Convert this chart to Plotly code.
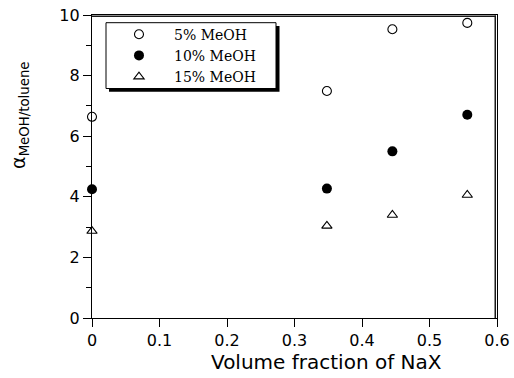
import plotly.graph_objects as go

vol_frac = [0.0, 0.348, 0.445, 0.556]
meoh5 = [6.64, 7.49, 9.53, 9.74]
meoh10 = [4.25, 4.27, 5.5, 6.71]
meoh15 = [2.87, 3.04, 3.40, 4.06]
series_names = ["5% MeOH", "10% MeOH", "15% MeOH"]
x_ticks = [0, 0.1, 0.2, 0.3, 0.4, 0.5, 0.6]
x_tick_labels = ["0", "0.1", "0.2", "0.3", "0.4", "0.5", "0.6"]
y_ticks = [0, 2, 4, 6, 8, 10]
x_title = "Volume fraction of NaX"
y_title = "α<sub>MeOH/toluene</sub>"

fig = go.Figure()
fig.add_trace(go.Scatter(x=vol_frac, y=meoh5, mode="markers", name=series_names[0],
                         marker=dict(symbol="circle-open", size=9, color="black", line=dict(width=1.1)),
                         cliponaxis=False))
fig.add_trace(go.Scatter(x=vol_frac, y=meoh10, mode="markers", name=series_names[1],
                         marker=dict(symbol="circle", size=10, color="black"),
                         cliponaxis=False))
fig.add_trace(go.Scatter(x=vol_frac, y=meoh15, mode="markers", name=series_names[2],
                         marker=dict(symbol="triangle-up-open", size=9, color="black", line=dict(width=1.1)),
                         cliponaxis=False))

# plot frame: top and right borders (pixel-sized, anchored at the plot's top-left corner)
fig.add_shape(type="rect", xref="paper", yref="paper", xsizemode="pixel", ysizemode="pixel",
              xanchor=0, yanchor=1, x0=0, x1=404, y0=-2, y1=-0.5,
              fillcolor="#1a1a1a", line=dict(width=0), layer="above")
fig.add_shape(type="rect", xref="paper", yref="paper", xsizemode="pixel", ysizemode="pixel",
              xanchor=0, yanchor=1, x0=402.5, x1=404, y0=-303, y1=-0.5,
              fillcolor="#1a1a1a", line=dict(width=0), layer="above")
# legend box with drop shadow
fig.add_shape(type="rect", xref="paper", yref="paper", xsizemode="pixel", ysizemode="pixel",
              xanchor=0, yanchor=1, x0=17, x1=187.5, y0=-76.7, y1=-11,
              fillcolor="black", line=dict(width=0), layer="above")
fig.add_shape(type="rect", xref="paper", yref="paper", xsizemode="pixel", ysizemode="pixel",
              xanchor=0, yanchor=1, x0=14, x1=184, y0=-73.5, y1=-7.7,
              fillcolor="white", line=dict(width=1, color="black"), layer="above")

fig.add_annotation(text=y_title, xref="paper", yref="paper", x=0, y=0.667,
                   xanchor="center", yanchor="middle", xshift=-72, textangle=-90,
                   showarrow=False, font=dict(family="DejaVu Sans, sans-serif", size=19, color="black"))
fig.add_annotation(text=x_title, xref="paper", yref="paper", x=0.58, y=0,
                   xanchor="center", yanchor="top", yshift=-30,
                   showarrow=False, font=dict(family="DejaVu Sans, sans-serif", size=20, color="black"))

fig.update_layout(
    width=514, height=378,
    margin=dict(l=92, r=17, t=15, b=60, autoexpand=False),
    plot_bgcolor="white", paper_bgcolor="white",
    font=dict(family="DejaVu Sans, sans-serif", size=16, color="black"),
    showlegend=True,
    legend=dict(x=0.0296, y=0.866, xanchor="left", yanchor="middle",
                bgcolor="rgba(0,0,0,0)", borderwidth=0,
                font=dict(family="DejaVu Serif, serif", size=14, color="black"),
                itemwidth=60, tracegroupgap=0),
    xaxis=dict(range=[0, 0.6], tickvals=x_ticks, ticktext=x_tick_labels,
               ticks="outside", ticklen=8, tickcolor="black",
               showline=True, linecolor="black", linewidth=1.2, mirror=True,
               showgrid=False, zeroline=False, automargin=False),
    yaxis=dict(range=[0, 10], tickvals=y_ticks,
               ticks="outside", ticklen=8, tickcolor="black",
               minor=dict(dtick=1, ticks="outside", ticklen=5, tickcolor="black"),
               showline=True, linecolor="black", linewidth=1.2, mirror=True,
               showgrid=False, zeroline=False, automargin=False),
)

fig.write_html("out.html", config={"displayModeBar": False},
               post_script="document.body.style.margin='0px';document.body.style.overflow='hidden';")
